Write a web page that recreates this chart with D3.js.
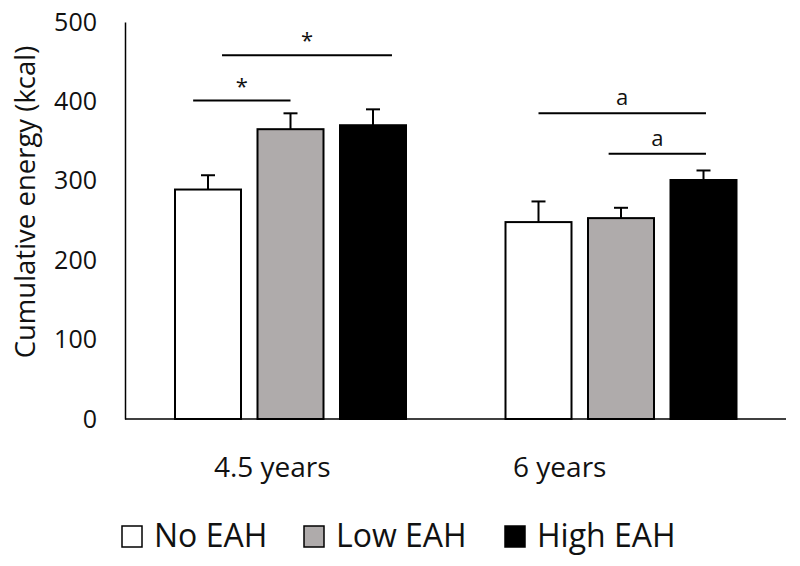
<!DOCTYPE html>
<html>
<head>
<meta charset="utf-8">
<script src="https://cdn.jsdelivr.net/npm/d3@7"></script>
<style>
  html, body { margin: 0; padding: 0; background: #fff; }
  svg { display: block; font-family: "Open Sans", sans-serif; }
</style>
</head>
<body>
<svg id="chart" width="800" height="566"></svg>
<script>
// ---- data ----
const groups = ["4.5 years", "6 years"];
const series = ["No EAH", "Low EAH", "High EAH"];
const seriesColors = ["#ffffff", "#afabab", "#000000"];
const means = [
  [289, 365, 370],
  [248, 253, 301]
];
const errors = [
  [18, 20, 20],
  [26, 13, 12]
];
const yTicks = [0, 100, 200, 300, 400, 500];
// significance annotations: group index, from/to (bar index units), level (kcal), label
const sigGroup = [0, 0, 1, 1];
const sigFrom = [-0.18, 0.17, 0.0, 0.85];
const sigTo = [1.0, 2.23, 2.03, 2.03];
const sigLevel = [401, 458, 385, 334];
const sigLabel = ["*", "*", "a", "a"];

// ---- layout ----
const svg = d3.select("#chart");
const x0 = d3.scaleBand().domain(groups).range([125, 786]).padding(0);
const x1 = d3.scaleBand().domain(series).range([50, 281]).paddingInner(0.2).paddingOuter(0);
const y = d3.scaleLinear().domain([0, 500]).range([419, 22]);
const step = x1.step();
const barCenter = (g, pos) => x0(groups[g]) + x1(series[0]) + x1.bandwidth() / 2 + pos * step;

// y axis
const yAxis = d3.axisLeft(y).tickValues(yTicks).tickSize(0).tickPadding(28);
const gy = svg.append("g").attr("transform", "translate(125,0)").call(yAxis);
gy.select(".domain").attr("stroke", "#000").attr("stroke-width", 1.5);
gy.selectAll("text").attr("font-size", 25).attr("fill", "#111").attr("font-family", "Open Sans");

// bars
groups.forEach((g, gi) => {
  const gg = svg.append("g").attr("transform", `translate(${x0(g)},0)`);
  series.forEach((s, si) => {
    const v = means[gi][si];
    const e = errors[gi][si];
    const cx = x1(s) + x1.bandwidth() / 2;
    gg.append("rect")
      .attr("x", x1(s)).attr("y", y(v))
      .attr("width", x1.bandwidth()).attr("height", y(0) - y(v))
      .attr("fill", seriesColors[si]).attr("stroke", "#000").attr("stroke-width", 2);
    gg.append("line")
      .attr("x1", cx).attr("x2", cx).attr("y1", y(v)).attr("y2", y(v + e))
      .attr("stroke", "#000").attr("stroke-width", 2);
    gg.append("line")
      .attr("x1", cx - 7).attr("x2", cx + 7).attr("y1", y(v + e)).attr("y2", y(v + e))
      .attr("stroke", "#000").attr("stroke-width", 2);
  });
});

// x axis line
svg.append("line").attr("x1", 125).attr("x2", 786).attr("y1", y(0)).attr("y2", y(0))
  .attr("stroke", "#000").attr("stroke-width", 1.5);

// category labels
const labelShift = [-18, -61];
svg.selectAll("text.cat").data(groups).enter().append("text")
  .attr("class", "cat")
  .attr("x", (d, i) => x0(d) + x0.bandwidth() / 2 + labelShift[i])
  .attr("y", 477)
  .attr("text-anchor", "middle")
  .attr("font-size", 28).attr("fill", "#111")
  .text(d => d);

// significance lines
sigLabel.forEach((lab, i) => {
  const xa = barCenter(sigGroup[i], sigFrom[i]);
  const xb = barCenter(sigGroup[i], sigTo[i]);
  const yy = y(sigLevel[i]);
  svg.append("line").attr("x1", xa).attr("x2", xb).attr("y1", yy).attr("y2", yy)
    .attr("stroke", "#000").attr("stroke-width", 2);
  svg.append("text")
    .attr("x", (xa + xb) / 2)
    .attr("y", lab === "*" ? yy - 7 : yy - 8)
    .attr("text-anchor", "middle")
    .attr("font-size", lab === "*" ? 22 : 22)
    .attr("fill", "#111")
    .text(lab);
});

// y axis title
svg.append("text")
  .attr("transform", "translate(35,202) rotate(-90)")
  .attr("text-anchor", "middle")
  .attr("font-size", 27.5).attr("fill", "#111")
  .text("Cumulative energy (kcal)");

// legend
const legendX = [122, 304, 505];
series.forEach((s, i) => {
  const lg = svg.append("g").attr("transform", `translate(${legendX[i]},526)`);
  lg.append("rect").attr("x", 0).attr("y", 0).attr("width", 20).attr("height", 21)
    .attr("fill", seriesColors[i]).attr("stroke", "#000").attr("stroke-width", 1.5);
  lg.append("text").attr("x", 32).attr("y", 21).attr("font-size", 32).attr("fill", "#111").text(s);
});
</script>
</body>
</html>
